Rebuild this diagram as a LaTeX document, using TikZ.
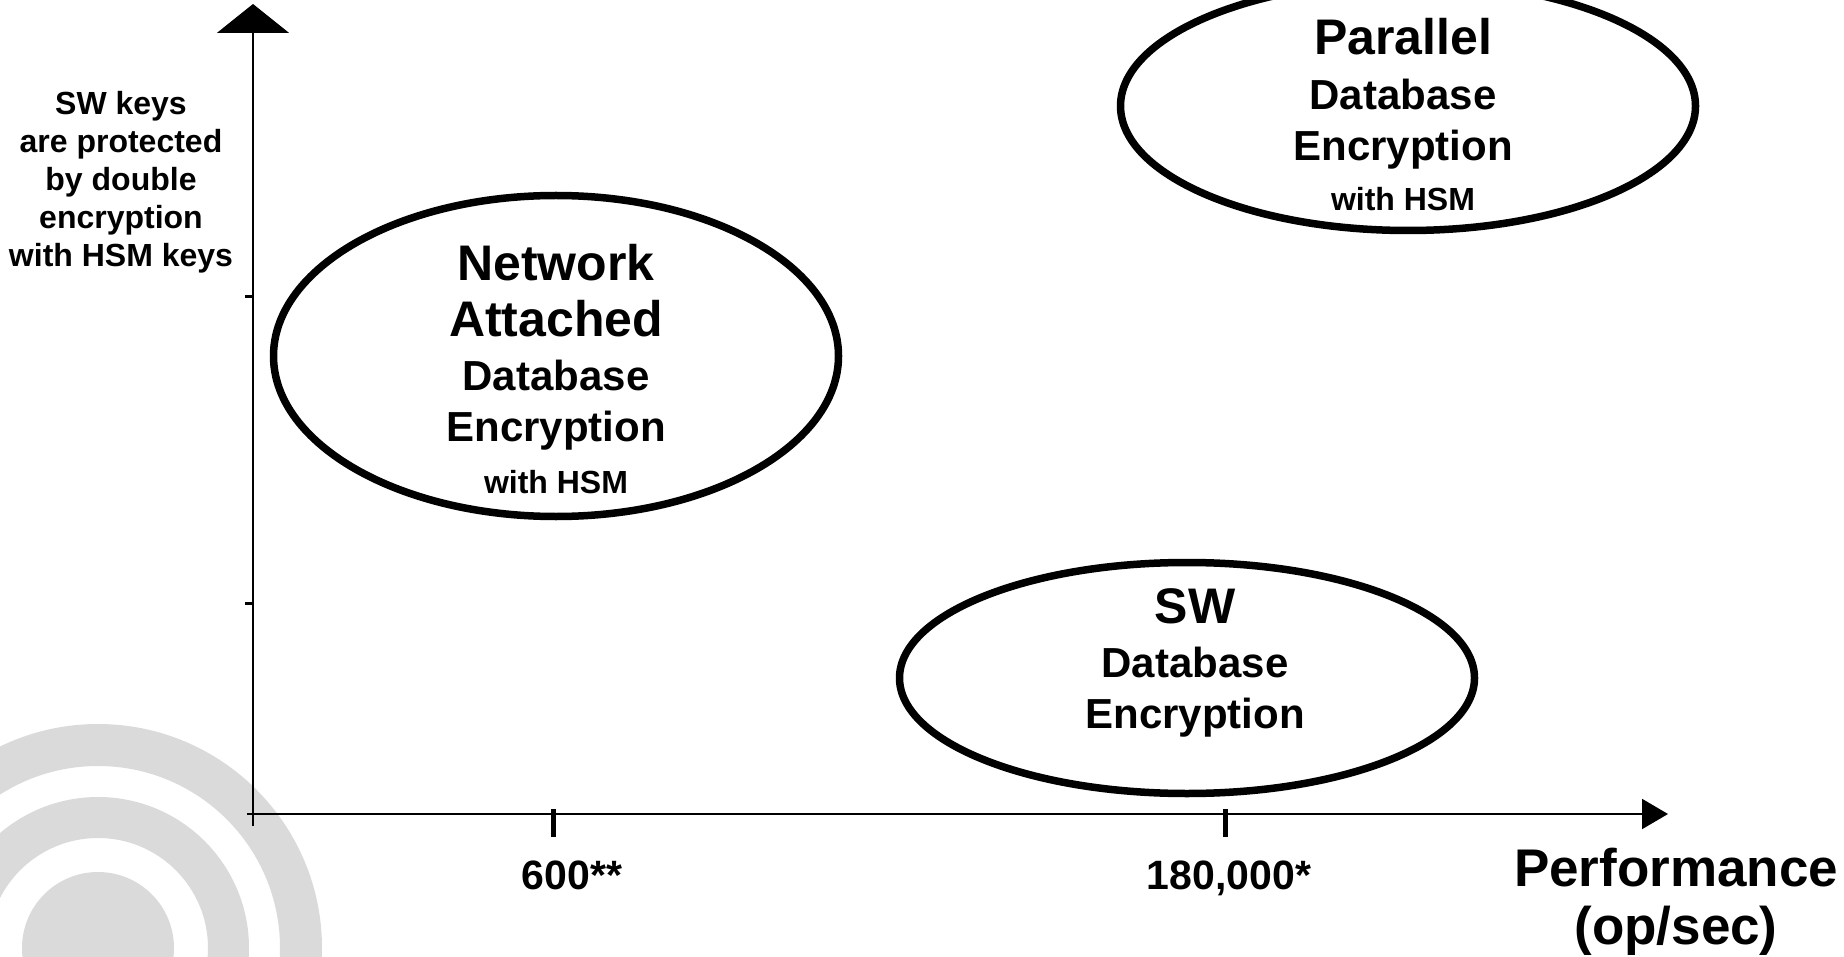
\documentclass[tikz,border=0pt]{standalone}
\usepackage{fontspec}
\setmainfont{Liberation Sans}
\usetikzlibrary{shapes.geometric,arrows.meta}
\definecolor{ringgray}{HTML}{DADADA}
\newcommand\fsz[1]{\fontsize{#1}{#1}\selectfont}

\begin{document}
\begin{tikzpicture}[x=1pt,y=-1pt,
  oval/.style={ellipse, draw=black, line width=7.5pt, inner sep=0pt},
  lbl/.style={anchor=base, inner sep=0pt, font=\bfseries},
  big/.style={lbl, font=\bfseries\fsz{50}},
  mid/.style={lbl, font=\bfseries\fsz{42}},
  small/.style={lbl, font=\bfseries\fsz{32}},
  axisline/.style={line width=2pt, black},
]
\useasboundingbox (0,0) rectangle (1844,957);
\clip (0,0) rectangle (1844,957);

% concentric grey rings in the lower left corner
\coordinate (ringc) at (98,948);
\fill[ringgray, even odd rule] (ringc) circle[radius=224pt] circle[radius=182pt]
  circle[radius=151pt] circle[radius=110pt] circle[radius=76pt];

% axes
\coordinate (O)     at (253,814);
\coordinate (ybot)  at (253,826);
\coordinate (ytop)  at (253,4);
\coordinate (xbeg)  at (247,814);
\coordinate (xend)  at (1668,814);
\draw[axisline, -{Triangle[width=72pt,length=29pt]}] (ybot) -- (ytop);
\draw[axisline, -{Triangle[width=30pt,length=26pt]}] (xbeg) -- (xend);

% tick marks
\coordinate (ty1) at (253,297);
\coordinate (ty2) at (253,603);
\draw[line width=3pt] (ty1) -- ++(-8,0);
\draw[line width=3pt] (ty2) -- ++(-8,0);
\coordinate (tx1) at (553,809);
\coordinate (tx2) at (1225,809);
\draw[line width=5pt] (tx1) -- ++(0,28);
\draw[line width=5pt] (tx2) -- ++(0,28);

% y-axis caption
\node[small] (k1) at (121,115) {SW keys};
\node[small] (k2) at (121,153) {are protected};
\node[small] (k3) at (121,191) {by double};
\node[small] (k4) at (121,229) {encryption};
\node[small] (k5) at (121,267) {with HSM keys};

% x-axis labels
\node[lbl, font=\bfseries\fsz{41}] (l600) at (572,889) {600**};
\node[lbl, font=\bfseries\fsz{41}] (l180) at (1229,889) {180,000*};
\node[lbl, font=\bfseries\fsz{53}] (perf) at (1676,886) {Performance};
\node[lbl, font=\bfseries\fsz{53}] (unit) at (1676,944) {(op/sec)};

% network attached encryption
\node[oval, minimum width=565pt, minimum height=321pt] (nas) at (556,356) {};
\node[big] (n1) at (556,281) {Network};
\node[big] (n2) at (556,337) {Attached};
\node[mid] (n3) at (556,390) {Database};
\node[mid] (n4) at (556,441) {Encryption};
\node[small] (n5) at (556,493) {with HSM};

% parallel encryption
\node[oval, minimum width=575pt, minimum height=249pt] (par) at (1408,106) {};
\node[big] (p1) at (1403,55) {Parallel};
\node[mid] (p2) at (1403,110) {Database};
\node[mid] (p3) at (1403,161) {Encryption};
\node[small] (p4) at (1403,211) {with HSM};

% software encryption
\node[oval, minimum width=575pt, minimum height=231pt] (sw) at (1187,678) {};
\node[big] (s1) at (1195,623) {SW};
\node[mid] (s2) at (1195,677) {Database};
\node[mid] (s3) at (1195,728) {Encryption};
\end{tikzpicture}
\end{document}
